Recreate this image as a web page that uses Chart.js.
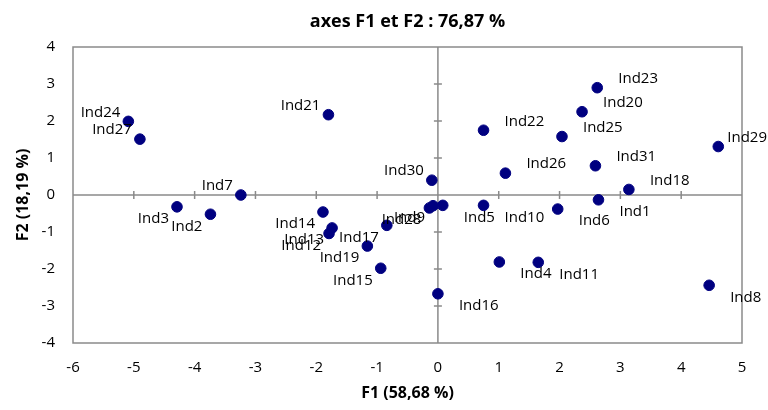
<!DOCTYPE html>
<html>
<head>
<meta charset="utf-8">
<title>axes F1 et F2</title>
<script src="https://cdn.jsdelivr.net/npm/chart.js@4/dist/chart.umd.min.js"></script>
<style>
  html, body { margin: 0; padding: 0; background: #fff; }
  #wrap { width: 768px; height: 410px; }
</style>
</head>
<body>
<div id="wrap"><canvas id="myChart" width="768" height="410"></canvas></div>
<script>
// individus et coordonnees sur F1 / F2
var names = ["Ind1","Ind2","Ind3","Ind4","Ind5","Ind6","Ind7","Ind8","Ind9","Ind10",
             "Ind11","Ind12","Ind13","Ind14","Ind15","Ind16","Ind17","Ind18","Ind19","Ind20",
             "Ind21","Ind22","Ind23","Ind24","Ind25","Ind26","Ind27","Ind28","Ind29","Ind30","Ind31"]
var f1 = [2.64, -3.74, -4.29, 1.01, 0.08, 1.97, -3.24, 4.46, -0.08, 0.75,
          1.65, -1.79, -1.74, -1.89, -0.94, 0.00, -0.84, 3.14, -1.16, 2.37,
          -1.80, 0.75, 2.62, -5.09, 2.04, 1.11, -4.90, -0.14, 4.61, -0.10, 2.59]
var f2 = [-0.13, -0.52, -0.32, -1.81, -0.28, -0.38, 0.00, -2.44, -0.29, -0.28,
          -1.82, -1.04, -0.89, -0.46, -1.98, -2.67, -0.82, 0.15, -1.38, 2.25,
          2.17, 1.75, 2.90, 1.99, 1.58, 0.59, 1.51, -0.35, 1.31, 0.40, 0.79]

// where each label sits: r/l = right/left, a/b = above/below
var labelSide = ["rb","lb","lb","rb","rb","rb","la","rb","lb","rb",
                 "rb","lb","lb","lb","lb","rb","lb","ra","lb","ra",
                 "la","ra","ra","la","ra","ra","la","lb","ra","la","ra"]

var titleText = "axes F1 et F2 : 76,87 %"
var xTitle = "F1 (58,68 %)"
var yTitle = "F2 (18,19 %)"

var xMin = -6, xMax = 5
var yMin = -4, yMax = 4

var gray = "#8a8a8a"
var navy = "#000080"
var fontFam = "'Open Sans', 'Noto Sans', sans-serif"

var points = []
for (var i = 0; i < names.length; i++) {
    points.push({x: f1[i], y: f2[i]})
}

// border of the plot + axes through zero with cross ticks
var axesPlugin = {
    id: "axesCross",
    beforeDatasetsDraw: function(chart) {
        var ctx = chart.ctx
        var a = chart.chartArea
        var sx = chart.scales.x
        var sy = chart.scales.y
        var x0 = sx.getPixelForValue(0)
        var y0 = sy.getPixelForValue(0)
        ctx.save()
        ctx.strokeStyle = gray
        ctx.lineWidth = 1.5
        ctx.strokeRect(a.left, a.top, a.right - a.left, a.bottom - a.top)
        ctx.beginPath()
        ctx.moveTo(a.left, y0); ctx.lineTo(a.right, y0)
        ctx.moveTo(x0, a.top); ctx.lineTo(x0, a.bottom)
        for (var v = xMin + 1; v < xMax; v++) {
            if (v === 0) continue
            var px = sx.getPixelForValue(v)
            ctx.moveTo(px, y0 - 4); ctx.lineTo(px, y0 + 4)
        }
        for (var w = yMin + 1; w < yMax; w++) {
            if (w === 0) continue
            var py = sy.getPixelForValue(w)
            ctx.moveTo(x0 - 4, py); ctx.lineTo(x0 + 4, py)
        }
        ctx.stroke()

        // title centred over the plot area
        ctx.fillStyle = "#000"
        ctx.font = "bold 18px " + fontFam
        ctx.textAlign = "center"
        ctx.textBaseline = "middle"
        ctx.fillText(titleText, (a.left + a.right) / 2, 22)
        ctx.restore()
    }
}

// point labels
var labelPlugin = {
    id: "pointLabels",
    afterDatasetsDraw: function(chart) {
        var ctx = chart.ctx
        var meta = chart.getDatasetMeta(0)
        ctx.save()
        ctx.font = "15px " + fontFam
        ctx.fillStyle = "#000"
        ctx.textBaseline = "middle"
        ctx.textAlign = "left"
        meta.data.forEach(function(el, i) {
            var side = labelSide[i]
            var txt = names[i]
            var tw = ctx.measureText(txt).width
            var ty = side[1] === "a" ? el.y - 9 : el.y + 12
            var tx
            if (side[0] === "r") {
                tx = el.x + 21
                if (tx + tw > chart.width - 1) tx = chart.width - 1 - tw
            } else {
                tx = el.x - 8 - tw
            }
            ctx.fillText(txt, tx, ty)
        })
        ctx.restore()
    }
}

var ctx = document.getElementById("myChart")
var myChart = new Chart(ctx, {
    type: "scatter",
    data: {
        datasets: [{
            data: points,
            backgroundColor: navy,
            borderColor: navy,
            pointRadius: 5.3,
            pointHoverRadius: 5.3
        }]
    },
    options: {
        responsive: false,
        animation: false,
        events: [],
        layout: { padding: { left: 0, right: 26, top: 47, bottom: 0 } },
        plugins: {
            legend: { display: false },
            tooltip: { enabled: false },
            title: { display: false }
        },
        scales: {
            x: {
                type: "linear",
                min: xMin,
                max: xMax,
                grid: { display: false, drawTicks: false },
                border: { display: false },
                ticks: {
                    stepSize: 1,
                    color: "#000",
                    padding: 16,
                    font: { family: fontFam, size: 15 }
                },
                title: {
                    display: true,
                    text: xTitle,
                    color: "#000",
                    font: { family: fontFam, size: 16, weight: "bold" },
                    padding: { top: 0, bottom: 7 }
                },
                afterFit: function(scale) { scale.height = 67 }
            },
            y: {
                type: "linear",
                min: yMin,
                max: yMax,
                grid: { display: false, drawTicks: false },
                border: { display: false },
                ticks: {
                    stepSize: 1,
                    color: "#000",
                    padding: 18,
                    font: { family: fontFam, size: 15 }
                },
                title: {
                    display: true,
                    text: yTitle,
                    color: "#000",
                    font: { family: fontFam, size: 16, weight: "bold" },
                    padding: { top: 14, bottom: 0 }
                },
                afterFit: function(scale) { scale.width = 73 }
            }
        }
    },
    plugins: [axesPlugin, labelPlugin]
});
</script>
</body>
</html>
